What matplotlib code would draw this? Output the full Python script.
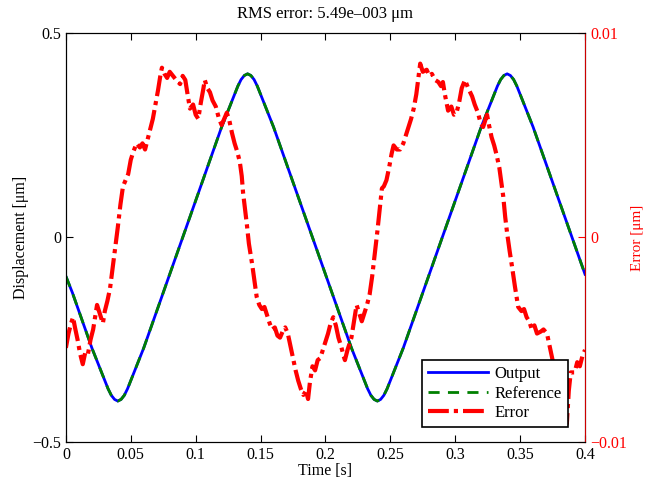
import matplotlib
matplotlib.use("Agg")
import matplotlib.pyplot as plt
import numpy as np

plt.rcParams['font.family'] = ['Liberation Serif', 'DejaVu Serif']

# displacement, denser around the turning points
t_disp = [0.0, 0.005, 0.01, 0.015, 0.02, 0.025, 0.03, 0.0325, 0.035, 0.0375,
          0.04, 0.0425, 0.045, 0.0475, 0.05, 0.055, 0.06, 0.065, 0.07, 0.075,
          0.08, 0.085, 0.09, 0.095, 0.10, 0.105, 0.11, 0.115, 0.12, 0.125,
          0.13, 0.1325, 0.135, 0.1375, 0.14, 0.1425, 0.145, 0.1475, 0.15, 0.155,
          0.16, 0.165, 0.17, 0.175, 0.18, 0.185, 0.19, 0.195, 0.20, 0.205,
          0.21, 0.215, 0.22, 0.225, 0.23, 0.2325, 0.235, 0.2375, 0.24, 0.2425,
          0.245, 0.2475, 0.25, 0.255, 0.26, 0.265, 0.27, 0.275, 0.28, 0.285,
          0.29, 0.295, 0.30, 0.305, 0.31, 0.315, 0.32, 0.325, 0.33, 0.3325,
          0.335, 0.3375, 0.34, 0.3425, 0.345, 0.3475, 0.35, 0.355, 0.36, 0.365,
          0.37, 0.375, 0.38, 0.385, 0.39, 0.395, 0.40]
output_disp = [-0.095, -0.135, -0.18, -0.225, -0.27, -0.31, -0.35, -0.37, -0.386, -0.396,
               -0.40, -0.396, -0.386, -0.37, -0.35, -0.31, -0.27, -0.225, -0.18, -0.135,
               -0.09, -0.045, 0.0, 0.045, 0.09, 0.135, 0.18, 0.225, 0.27, 0.31,
               0.35, 0.37, 0.386, 0.396, 0.40, 0.396, 0.386, 0.37, 0.35, 0.31,
               0.27, 0.225, 0.18, 0.135, 0.09, 0.045, 0.0, -0.045, -0.09, -0.135,
               -0.18, -0.225, -0.27, -0.31, -0.35, -0.37, -0.386, -0.396, -0.40, -0.396,
               -0.386, -0.37, -0.35, -0.31, -0.27, -0.225, -0.18, -0.135, -0.09, -0.045,
               0.0, 0.045, 0.09, 0.135, 0.18, 0.225, 0.27, 0.31, 0.35, 0.37,
               0.386, 0.396, 0.40, 0.396, 0.386, 0.37, 0.35, 0.31, 0.27, 0.225,
               0.18, 0.135, 0.09, 0.045, 0.0, -0.045, -0.09]
ref_disp = list(output_disp)

# tracking error
err_t = [0.000, 0.002, 0.004, 0.0055, 0.007, 0.009, 0.011, 0.013, 0.015, 0.017,
         0.019, 0.021, 0.023, 0.024, 0.026, 0.0285, 0.030, 0.032, 0.034, 0.036,
         0.038, 0.040, 0.042, 0.044, 0.046, 0.048, 0.050, 0.052, 0.0545, 0.057,
         0.059, 0.061, 0.063, 0.065, 0.067, 0.069, 0.071, 0.073, 0.074, 0.076,
         0.078, 0.080, 0.0825, 0.085, 0.088, 0.090, 0.092, 0.094, 0.0956, 0.098,
         0.100, 0.102, 0.104, 0.106, 0.107, 0.109, 0.111, 0.113, 0.1155, 0.118,
         0.120, 0.122, 0.124, 0.126, 0.128, 0.130, 0.132, 0.134, 0.1355, 0.1365,
         0.138, 0.1395, 0.141, 0.1425, 0.1435, 0.145, 0.147, 0.149, 0.151, 0.153,
         0.155, 0.157, 0.159, 0.161, 0.163, 0.165, 0.167, 0.169, 0.171, 0.173,
         0.175, 0.177, 0.179, 0.181, 0.183, 0.185, 0.1866, 0.188, 0.190, 0.192,
         0.194, 0.196, 0.198, 0.200, 0.202, 0.204, 0.206, 0.208, 0.210, 0.212,
         0.214, 0.215, 0.217, 0.219, 0.220, 0.222, 0.224, 0.226, 0.228, 0.230,
         0.232, 0.234, 0.236, 0.238, 0.240, 0.242, 0.2435, 0.245, 0.247, 0.249,
         0.251, 0.2525, 0.255, 0.2575, 0.260, 0.262, 0.264, 0.266, 0.268, 0.270,
         0.272, 0.273, 0.275, 0.278, 0.280, 0.282, 0.2845, 0.287, 0.289, 0.2905,
         0.292, 0.2945, 0.297, 0.299, 0.301, 0.303, 0.305, 0.3075, 0.310, 0.313,
         0.315, 0.3175, 0.3195, 0.3215, 0.3235, 0.3245, 0.326, 0.328, 0.330, 0.332,
         0.334, 0.3355, 0.337, 0.3385, 0.340, 0.342, 0.3437, 0.346, 0.3485, 0.351,
         0.353, 0.355, 0.357, 0.359, 0.361, 0.363, 0.366, 0.368, 0.3707, 0.373,
         0.375, 0.377, 0.379, 0.381, 0.383, 0.385, 0.386, 0.3875, 0.389, 0.392,
         0.394, 0.396, 0.398, 0.400]
err_v = [-0.0054, -0.0047, -0.0042, -0.0039, -0.0044, -0.0050, -0.0057, -0.0062, -0.0056, -0.0057,
         -0.0050, -0.0045, -0.0037, -0.0033, -0.0037, -0.0042, -0.0036, -0.0031, -0.0025, -0.0015,
         -0.0005, 0.0005, 0.0016, 0.0025, 0.0028, 0.0031, 0.0038, 0.0042, 0.0046, 0.0044,
         0.0046, 0.0043, 0.0048, 0.0053, 0.0058, 0.0065, 0.0072, 0.0080, 0.0083, 0.0080,
         0.0078, 0.0081, 0.0079, 0.0077, 0.0075, 0.0079, 0.0077, 0.0069, 0.0063, 0.0065,
         0.0060, 0.0058, 0.0066, 0.0073, 0.0077, 0.0073, 0.0071, 0.0067, 0.0064, 0.0058,
         0.0055, 0.0058, 0.0061, 0.0057, 0.0051, 0.0046, 0.0042, 0.0037, 0.0030, 0.0022,
         0.0014, 0.0006, -0.0003, -0.0009, -0.0013, -0.0020, -0.0029, -0.0033, -0.0035, -0.0034,
         -0.0038, -0.0042, -0.0045, -0.0044, -0.0048, -0.0049, -0.0046, -0.0044, -0.0047, -0.0053,
         -0.0059, -0.0065, -0.0070, -0.0074, -0.0077, -0.0075, -0.0079, -0.0071, -0.0063, -0.0065,
         -0.0060, -0.0059, -0.0055, -0.0051, -0.0047, -0.0042, -0.0039, -0.0043, -0.0049, -0.0053,
         -0.0058, -0.0060, -0.0055, -0.0051, -0.0049, -0.0041, -0.0033, -0.0037, -0.0041, -0.0037,
         -0.0033, -0.0028, -0.0019, -0.0008, 0.0003, 0.0015, 0.0024, 0.0025, 0.0028, 0.0034,
         0.0041, 0.0045, 0.0043, 0.0043, 0.0046, 0.0050, 0.0054, 0.0058, 0.0063, 0.0070,
         0.0080, 0.0085, 0.0081, 0.0082, 0.0079, 0.0080, 0.0077, 0.0076, 0.0074, 0.0076,
         0.0070, 0.0062, 0.0064, 0.0060, 0.0061, 0.0066, 0.0073, 0.0077, 0.0073, 0.0069,
         0.0065, 0.0061, 0.0056, 0.0054, 0.0058, 0.0060, 0.0055, 0.0049, 0.0045, 0.0040,
         0.0034, 0.0027, 0.0020, 0.0010, 0.0002, -0.0007, -0.0014, -0.0024, -0.0034, -0.0036,
         -0.0035, -0.0039, -0.0041, -0.0045, -0.0043, -0.0047, -0.0046, -0.0045, -0.0047, -0.0054,
         -0.0060, -0.0066, -0.0072, -0.0078, -0.0083, -0.0088, -0.0091, -0.0075, -0.0066, -0.0066,
         -0.0061, -0.0063, -0.0058, -0.0055]

x_ticks = [0, 0.05, 0.1, 0.15, 0.2, 0.25, 0.3, 0.35, 0.4]
x_labels = ['0', '0.05', '0.1', '0.15', '0.2', '0.25', '0.3', '0.35', '0.4']

fig = plt.figure(figsize=(6.46, 4.83), dpi=100)
ax = fig.add_axes([0.102, 0.085, 0.8036, 0.8468])
ax2 = ax.twinx()

l1, = ax.plot(t_disp, output_disp, color='blue', lw=2, label='Output')
l2, = ax.plot(t_disp, ref_disp, color='green', lw=2, ls=(0, (4, 3)), label='Reference')
l3, = ax2.plot(err_t, err_v, color='red', lw=3, ls=(0, (5, 1.2, 1, 1.2)),
               solid_joinstyle='round', label='Error')

ax.set_xlim(0, 0.4)
ax.set_ylim(-0.5, 0.5)
ax.set_xticks(x_ticks)
ax.set_xticklabels(x_labels)
ax.set_yticks([-0.5, 0, 0.5])
ax.set_yticklabels(['\u22120.5', '0', '0.5'])
ax.tick_params(direction='in', labelsize=11.5, top=True, length=5)
ax.set_xlabel('Time [s]', fontsize=11.5, labelpad=0)
ax.set_ylabel('Displacement [\u03bcm]', fontsize=11.5, labelpad=2)
ax.set_title('RMS error: 5.49e\u2013003 \u03bcm', fontsize=12, pad=11)

ax2.set_ylim(-0.01, 0.01)
ax2.set_yticks([-0.01, 0, 0.01])
ax2.set_yticklabels(['\u22120.01', '0', '0.01'])
ax2.tick_params(direction='in', labelsize=11.5, colors='red', length=5)
ax2.spines['right'].set_color('#cc0000')
ax2.set_ylabel('Error [\u03bcm]', color='red', fontsize=11, labelpad=3)

leg = ax2.legend([l1, l2, l3], ['Output', 'Reference', 'Error'], loc='lower right',
                 bbox_to_anchor=(0.967, 0.037), fontsize=12, handlelength=3.6,
                 handletextpad=0.4, fancybox=False, framealpha=1, edgecolor='black',
                 borderpad=0.35, labelspacing=0.2, borderaxespad=0)
leg.get_frame().set_linewidth(1.2)

fig.savefig('out.png', dpi=100)
